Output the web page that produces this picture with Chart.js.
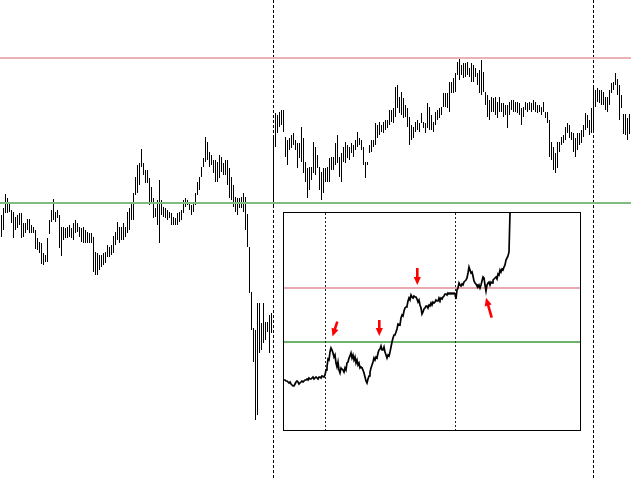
<!DOCTYPE html>
<html><head><meta charset="utf-8">
<script src="https://cdn.jsdelivr.net/npm/chart.js@4.4.0/dist/chart.umd.min.js"></script>
<style>
html,body{margin:0;padding:0;background:#fff;overflow:hidden}
#wrap{position:relative;width:640px;height:480px}
#main{position:absolute;left:0;top:0}
#box{position:absolute;left:283px;top:212px;width:296px;height:217px;border:1px solid #000;background:#fff}
#inset{display:block}
</style></head><body>
<div id="wrap">
<canvas id="main" width="640" height="480"></canvas>
<div id="box"><canvas id="inset" width="296" height="217"></canvas></div>
</div>
<script>
// ---- main chart: high / low of each bar ----
const barHigh = [
265,272,286,282,278,270,268,263,265,267, 267,257,257,261,261,255,253,250,242,238,
237,227,225,242,260,270,281,268,270,265, 253,253,252,253,255,252,257,260,257,253,
252,253,250,248,247,247,243,228,227,225, 225,227,228,235,233,235,244,248,258,253,
253,257,253,268,272,278,287,303,315,317, 331,317,310,310,302,293,282,272,280,300,
280,273,272,270,268,267,263,262,267,268, 270,280,282,280,278,275,278,287,298,303,
313,322,343,338,328,325,320,320,318,325, 323,317,320,320,312,303,295,283,282,282,
283,287,283,
266,233,188,152,150,177,177,157,177,158,158,165,167,
345,
367,365,368,370,370,343,340,342,345,347, 340,337,337,353,342,318,312,313,313,338,
333,325,313,308,312,312,313,322,323,323, 337,345,323,327,333,338,335,333,337,335,
340,348,342,340,333,318,318,335,340,340, 357,355,358,355,358,360,360,370,370,372,
393,395,383,388,382,375,372,363,355,353, 358,360,357,367,358,357,377,373,365,358,
368,370,372,373,387,387,387,398,398,402, 407,418,422,415,417,417,418,412,
417,415,412,407,410,420,408,388,385,380, 383,382,383,378,383,377,377,375,375,378,
380,380,378,378,377,372,373,378,377,378, 377,380,378,375,375,373,378,368,368,360,
338,333,327,338,338,343,345,353,357,355, 348,347,342,347,347,350,355,367,365,360,
372,392,390,392,390,390,388,383,383,390, 397,398,407,401,395,385,366,366,362,366
];
const barLow = [
243,250,267,267,268,257,242,250,252,255, 242,243,247,250,247,247,247,231,230,227,
216,215,218,218,246,258,260,258,262,232, 224,240,242,242,243,242,240,247,248,243,
238,237,237,237,237,237,208,205,205,210, 213,215,217,223,223,225,227,235,240,237,
240,240,243,247,250,260,260,285,287,295, 313,305,297,297,275,278,262,263,255,237,
265,263,262,260,262,255,255,255,255,258, 260,267,273,275,270,265,268,275,285,290,
303,313,318,320,313,315,307,298,298,302, 308,305,305,295,282,280,273,268,265,272,
272,268,250,
233,187,150,118,60,65,127,130,137,140,148,127,147,
275,
333,347,353,355,348,323,315,330,332,335, 330,312,322,318,307,298,282,290,300,307,
305,312,290,280,287,298,298,298,310,310, 315,317,303,298,318,317,322,320,327,323,
330,333,335,330,315,302,315,327,328,333, 335,342,345,348,347,350,352,355,358,357,
363,372,367,365,362,363,353,335,340,342, 348,350,348,357,352,347,352,350,350,348,
355,360,362,365,373,373,372,368,387,387, 388,405,400,405,402,403,405,403,
398,398,403,395,387,385,388,375,363,360, 368,368,365,362,368,368,363,365,352,365,
370,368,368,367,365,355,363,370,368,370, 368,370,368,367,368,365,368,362,357,323,
320,310,307,312,328,335,337,340,347,342, 340,328,323,330,335,337,343,350,352,345,
347,347,373,378,377,375,375,370,368,375, 387,390,395,385,360,372,346,345,340,346
];
const barLabels = barHigh.map((_, i) => i);
const resistanceLevel = 422;
const supportLevel = 277;
const sessionBreaks = [136, 296];

// ---- inset chart ----
const insetValues = [
50,50,49,49,48,47,48,46,45,44, 44,46,48,49,48,46,47,48,49,48,
49,50,50,51,50,52,51,51,52,53, 51,52,53,52,51,53,53,52,54,54,
53,55,
60,63,71,70,78,82,80,77,73,75, 67,63,68,60,57,62,61,60,58,62,
60,67,68,72,74,77,72,75,70,73, 67,70,65,67,62,63,62,60,57,53,
49,47,51,54,58,62,65,68,72,70, 73,72,77,80,81,84,80,80,83,78,
75,72,75,74,78,83,88,92,95,
95,98,101,106,106,105,112,115,114,119,
122,123,124,129,132,130,135,133,132,134,
133,133,131,128,130,125,122,116,118,121,
122,124,124,122,125,124,127,125,128,127,
128,130,129,129,132,130,132,131,133,134,
136,136,135,137,136,137,136,137,136,137,
136,131,140,142,147,145,144,146,145,148,
149,150,152,157,163,160,157,158,154,149,
147,146,144,143,145,142,145,149,153,152,
145,139,145,147,148,145,148,147,150,151,
152,153,151,156,155,160,158,161,160,163,
165,170,172,174,178,217
];
const insetSpan = 296;
const insetResistance = 142;
const insetSupport = 88;
const insetBreaks = [41.5, 172];
// arrows: tail -> tip, in inset data units (index, value)
const insetArrows = [
  {fromI:53.3, fromV:108.3, toI:48.5, toV:93.5},
  {fromI:95.3, fromV:110, toI:95.3, toV:94},
  {fromI:133.3, fromV:162, toI:133.3, toV:145},
  {fromI:207.7, fromV:112.3, toI:202, toV:132.3}
];

const mainOverlay = {
  id: 'mainOverlay',
  afterDatasetsDraw(chart) {
    const {ctx, chartArea: a, scales: {x, y}} = chart;
    ctx.save();
    ctx.strokeStyle = '#000';
    ctx.lineWidth = 1;
    ctx.setLineDash([3, 2]);
    sessionBreaks.forEach(i => {
      const px = Math.round(x.getPixelForValue(i) - 0.5) + 0.5;
      ctx.beginPath(); ctx.moveTo(px, 0); ctx.lineTo(px, chart.height); ctx.stroke();
    });
    ctx.setLineDash([]);
    ctx.lineWidth = 2;
    [[resistanceLevel, '#e8b2b6'], [supportLevel, '#80bc80']].forEach(([v, c]) => {
      const py = Math.round(y.getPixelForValue(v));
      ctx.strokeStyle = c;
      ctx.beginPath(); ctx.moveTo(a.left - 0.5, py); ctx.lineTo(a.right + 0.5, py); ctx.stroke();
    });
    ctx.restore();
  }
};

new Chart(document.getElementById('main'), {
  type: 'bar',
  data: {
    labels: barLabels,
    datasets: [{
      data: barHigh.map((h, i) => [barLow[i], h]),
      backgroundColor: '#000',
      borderWidth: 0,
      barThickness: 1,
      inflateAmount: 0
    }]
  },
  options: {
    responsive: false, animation: false, devicePixelRatio: 1, events: [],
    layout: {padding: {left: 0.5, right: 9.5, top: 0, bottom: 0}},
    plugins: {legend: {display: false}, tooltip: {enabled: false}},
    scales: {
      x: {display: false, offset: true, grid: {display: false}},
      y: {display: false, min: 0, max: 480}
    }
  },
  plugins: [mainOverlay]
});

function drawArrow(ctx, x1, y1, x2, y2) {
  const ang = Math.atan2(y2 - y1, x2 - x1);
  const len = Math.hypot(x2 - x1, y2 - y1);
  const head = 8, hw = 3.6, sh = 1.3;
  ctx.save();
  ctx.translate(x2, y2); ctx.rotate(ang);
  ctx.beginPath();
  ctx.moveTo(0, 0);
  ctx.lineTo(-head, -hw); ctx.lineTo(-head, -sh); ctx.lineTo(-len, -sh);
  ctx.lineTo(-len, sh); ctx.lineTo(-head, sh); ctx.lineTo(-head, hw);
  ctx.closePath();
  ctx.fillStyle = '#ff0000';
  ctx.fill();
  ctx.restore();
}

const insetOverlay = {
  id: 'insetOverlay',
  beforeDatasetsDraw(chart) {
    const {ctx, chartArea: a, scales: {x, y}} = chart;
    ctx.save();
    ctx.lineWidth = 2;
    [[insetResistance, '#e8aaae'], [insetSupport, '#6cb46c']].forEach(([v, c]) => {
      const py = Math.round(y.getPixelForValue(v));
      ctx.strokeStyle = c;
      ctx.beginPath(); ctx.moveTo(a.left, py); ctx.lineTo(a.right, py); ctx.stroke();
    });
    ctx.lineWidth = 1;
    ctx.strokeStyle = '#222';
    ctx.setLineDash([2, 2]);
    insetBreaks.forEach(i => {
      const px = Math.floor(x.getPixelForValue(i)) + 0.5;
      ctx.beginPath(); ctx.moveTo(px, a.top); ctx.lineTo(px, a.bottom); ctx.stroke();
    });
    ctx.restore();
  },
  afterDatasetsDraw(chart) {
    const {ctx, scales: {x, y}} = chart;
    insetArrows.forEach(ar => {
      drawArrow(ctx, x.getPixelForValue(ar.fromI), y.getPixelForValue(ar.fromV),
                x.getPixelForValue(ar.toI), y.getPixelForValue(ar.toV));
    });
  }
};

new Chart(document.getElementById('inset'), {
  type: 'line',
  data: {
    datasets: [{
      data: insetValues.map((v, i) => ({x: i, y: v})),
      borderColor: '#000',
      borderWidth: 1.7,
      pointRadius: 0,
      tension: 0,
      fill: false
    }]
  },
  options: {
    responsive: false, animation: false, devicePixelRatio: 1, events: [],
    layout: {padding: 0},
    plugins: {legend: {display: false}, tooltip: {enabled: false}},
    scales: {
      x: {type: 'linear', display: false, min: 0, max: insetSpan},
      y: {display: false, min: 0, max: 217}
    }
  },
  plugins: [insetOverlay]
});
</script>
</body></html>
